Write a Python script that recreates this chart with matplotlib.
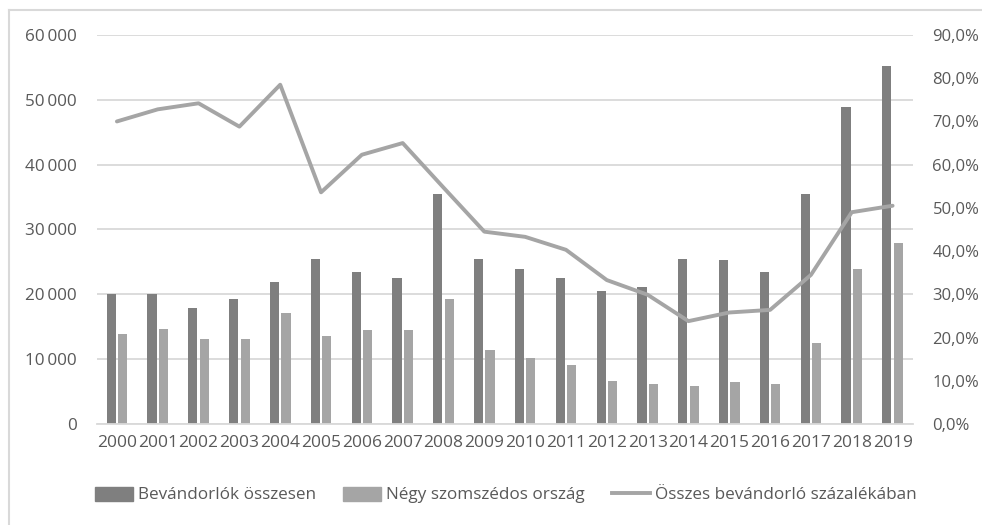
import matplotlib
matplotlib.use("Agg")
import matplotlib.pyplot as plt
from matplotlib.ticker import FuncFormatter, MultipleLocator
from matplotlib.lines import Line2D
import numpy as np

years = [str(y) for y in range(2000, 2020)]
total = [20100, 20100, 17950, 19350, 21900, 25500, 23450, 22450, 35450, 25500,
         23850, 22450, 20500, 21100, 25400, 25300, 23400, 35500, 48850, 55250]
neighbours = [13950, 14700, 13150, 13150, 17150, 13500, 14550, 14550, 19350, 11350,
              10250, 9100, 6650, 6150, 5850, 6450, 6150, 12500, 23900, 27900]
share_pct = [70.0, 72.8, 74.2, 68.8, 78.5, 53.6, 62.3, 65.0, 54.7, 44.5,
             43.3, 40.3, 33.3, 29.9, 23.8, 25.8, 26.4, 34.5, 49.0, 50.5]

legend_labels = ["Bevándorlók összesen", "Négy szomszédos ország",
                 "Összes bevándorló százalékában"]

DARK = "#7f7f7f"
LIGHT = "#a5a5a5"
GRID = "#d9d9d9"
TXT = "#595959"
FONT = ["Open Sans", "DejaVu Sans"]

plt.rcParams["font.family"] = FONT

W, H = 982, 525
fig = plt.figure(figsize=(W / 100, H / 100), dpi=100)
ax = fig.add_axes([96.5 / W, 1 - 424 / H, (913 - 96.5) / W, (424 - 35) / H])

x = np.arange(len(years))
bw = 0.225
off = 0.14
ax.bar(x - off, total, width=bw, color=DARK, zorder=2)
ax.bar(x + off, neighbours, width=bw, color=LIGHT, zorder=2)

ax.set_xlim(-0.5, len(years) - 0.5)
ax.set_ylim(0, 60000)
ax.yaxis.set_major_locator(MultipleLocator(10000))
ax.yaxis.set_major_formatter(FuncFormatter(
    lambda v, p: "0" if v == 0 else f"{int(v):,}".replace(",", "\u2009")))
ax.grid(axis="y", color=GRID, linewidth=1.3, zorder=0)
ax.set_axisbelow(True)
for s in ["top", "right", "left"]:
    ax.spines[s].set_visible(False)
ax.spines["bottom"].set_color(GRID)
ax.spines["bottom"].set_linewidth(1.3)
ax.set_xticks(x)
ax.set_xticklabels(years)
ax.tick_params(axis="x", length=0, pad=8, labelsize=12.5, labelcolor=TXT)
ax.tick_params(axis="y", length=0, pad=14, labelsize=12.3, labelcolor=TXT)

ax2 = ax.twinx()
ax2.plot(x, share_pct, color=LIGHT, linewidth=2.8, solid_joinstyle="round",
         solid_capstyle="round", zorder=3)
ax2.set_ylim(0, 90)
ax2.yaxis.set_major_locator(MultipleLocator(10))
ax2.yaxis.set_major_formatter(FuncFormatter(lambda v, p: f"{v:.1f}".replace(".", ",") + "%"))
for s in ["top", "right", "left", "bottom"]:
    ax2.spines[s].set_visible(False)
ax2.tick_params(axis="y", length=0, pad=14, labelsize=12, labelcolor=TXT)

handles = [plt.Rectangle((0, 0), 1, 1, color=DARK),
           plt.Rectangle((0, 0), 1, 1, color=LIGHT),
           Line2D([0], [0], color=LIGHT, linewidth=2.8)]
fig.legend(handles, legend_labels, loc="center", ncol=3,
           bbox_to_anchor=(506 / W, 1 - 495 / H), frameon=False,
           fontsize=12.3, labelcolor=TXT, handlelength=2.2, handleheight=0.9,
           handletextpad=0.3, columnspacing=1.6)

# outer frame
fig.add_artist(Line2D([9 / W, 9 / W], [0, 1 - 10 / H], transform=fig.transFigure,
                      color=GRID, linewidth=1.5))
fig.add_artist(Line2D([9 / W, 1], [1 - 10 / H, 1 - 10 / H], transform=fig.transFigure,
                      color=GRID, linewidth=1.5))

fig.savefig("out.png", dpi=100)
